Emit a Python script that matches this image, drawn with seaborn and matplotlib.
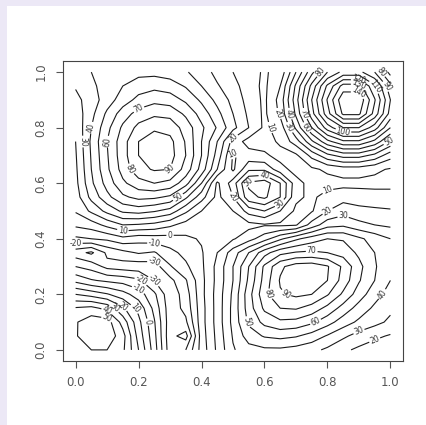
import numpy as np
import matplotlib
matplotlib.use("Agg")
import matplotlib.pyplot as plt
import seaborn as sns
from matplotlib.patches import Rectangle

# grid coordinates of the surface (x across, y up)
x_vals = [0.0, 0.05, 0.1, 0.15, 0.2, 0.25, 0.3, 0.35, 0.4, 0.45, 0.5,
          0.55, 0.6, 0.65, 0.7, 0.75, 0.8, 0.85, 0.9, 0.95, 1.0]
y_vals = x_vals

# surface values, one list per row (y = 0.00 ... 1.00)
row_000 = [46, 50, 50, 42, 20, -5, -36, -30, -6, 12, 29, 36, 38, 38, 36, 33, 28, 22, 18, 15, 12]
row_005 = [49, 57, 57, 44, 16, -7, -37, -44, -5, 13, 31, 45, 51, 53, 51, 46, 39, 32, 26, 22, 19]
row_010 = [49, 56, 55, 36, 13, -9, -36, -32, -4, 14, 33, 52, 63, 68, 67, 62, 54, 45, 38, 33, 28]
row_015 = [41, 43, 37, 22, 7, -13, -36, -27, -4, 14, 33, 55, 72, 80, 81, 76, 67, 56, 46, 38, 32]
row_020 = [20, 16, 11, 4, -5, -18, -37, -25, -3, 14, 32, 56, 77, 89, 92, 90, 81, 68, 55, 44, 36]
row_025 = [-3, -9, -12, -14, -18, -30, -33, -21, -3, 13, 30, 52, 74, 91, 97, 97, 90, 76, 61, 50, 40]
row_030 = [-20, -24, -33, -35, -36, -35, -21, -12, -2, 13, 30, 50, 72, 88, 95, 96, 91, 78, 63, 51, 43]
row_035 = [-36, -42, -28, -23, -19, -21, -13, -7, -1, 10, 25, 40, 56, 67, 71, 72, 70, 66, 58, 50, 44]
row_040 = [-12, -10, -8, -3, -6, -5, -4, -2, 1, 5, 9, 16, 26, 38, 48, 55, 60, 59, 52, 46, 40]
row_045 = [2, 5, 13, 20, 19, 17, 12, 6, 4, 4, 5, 7, 9, 8, 9, 24, 36, 38, 33, 30, 28]
row_050 = [11, 22, 33, 42, 44, 41, 36, 22, 10, 5, 10, 24, 30, 20, 8, 9, 20, 26, 23, 22, 21]
row_055 = [15, 33, 47, 58, 63, 62, 58, 42, 24, 7, 20, 47, 52, 40, 12, 8, 14, 16, 15, 14, 14]
row_060 = [17, 38, 54, 68, 76, 80, 77, 64, 40, 8, 25, 52, 56, 40, 14, 6, 6, 7, 7, 7, 7]
row_065 = [18, 40, 58, 74, 87, 91, 90, 76, 56, 30, 8, 28, 28, 14, 6, 8, 12, 15, 15, 12, 9]
row_070 = [19, 41, 59, 76, 90, 97, 94, 80, 60, 36, 9, 14, 12, 6, 8, 23, 37, 44, 44, 37, 24]
row_075 = [20, 42, 60, 76, 90, 96, 93, 79, 60, 40, 16, 6, 5, 12, 25, 48, 67, 78, 78, 67, 48]
row_080 = [22, 40, 57, 72, 83, 88, 86, 76, 62, 49, 33, 20, 8, 14, 42, 70, 95, 110, 110, 95, 70]
row_085 = [24, 37, 52, 65, 74, 78, 77, 68, 56, 43, 30, 18, 8, 22, 52, 86, 116, 142, 142, 116, 86]
row_090 = [27, 35, 45, 55, 63, 67, 65, 58, 48, 37, 27, 16, 8, 24, 56, 90, 121, 148, 148, 121, 90]
row_095 = [31, 38, 44, 50, 55, 57, 55, 49, 40, 31, 24, 14, 8, 20, 52, 83, 112, 134, 134, 112, 83]
row_100 = [35, 40, 43, 46, 47, 47, 45, 41, 35, 27, 20, 13, 9, 13, 40, 67, 90, 103, 103, 90, 66]

levels = list(range(-40, 160, 10))
tick_vals = [0.0, 0.2, 0.4, 0.6, 0.8, 1.0]
tick_labels = ["0.0", "0.2", "0.4", "0.6", "0.8", "1.0"]

z = np.array([row_000, row_005, row_010, row_015, row_020, row_025, row_030,
              row_035, row_040, row_045, row_050, row_055, row_060, row_065,
              row_070, row_075, row_080, row_085, row_090, row_095, row_100], dtype=float)

sns.set_style("ticks")
plt.rcParams["font.family"] = ["DejaVu Sans"]
plt.rcParams["axes.unicode_minus"] = False
plt.rcParams["contour.negative_linestyle"] = "solid"

fig = plt.figure(figsize=(4.27, 4.25), dpi=100)
fig.patch.set_facecolor("#ece8f6")
# white page area, the lavender shows as a thin strip at top and left
fig.patches.append(Rectangle((7 / 427, 0), 1, 1 - 6 / 425, transform=fig.transFigure,
                             facecolor="white", edgecolor="none", zorder=-10))

ax = fig.add_axes([63 / 427, 1 - 361 / 425, 340 / 427, 300 / 425])
ax.set_facecolor("white")

cs = ax.contour(x_vals, y_vals, z, levels=levels, colors="#1a1a1a", linewidths=0.8,
                linestyles="solid")
ax.clabel(cs, fmt="%d", fontsize=5.5, inline=True, inline_spacing=1.5, colors="#333333")

ax.set_xlim(-0.04, 1.04)
ax.set_ylim(-0.04, 1.04)
ax.set_xticks(tick_vals)
ax.set_xticklabels(tick_labels)
ax.set_yticks(tick_vals)
ax.set_yticklabels(tick_labels, rotation=90, va="center")
ax.tick_params(direction="out", length=5, width=0.8, labelsize=8.5, pad=6,
               colors="#555555", labelcolor="#555555")
for side in ["left", "right", "top", "bottom"]:
    ax.spines[side].set_visible(True)
    ax.spines[side].set_color("#444444")
    ax.spines[side].set_linewidth(0.8)
ax.grid(False)

fig.savefig("out.png", dpi=100, facecolor=fig.get_facecolor())
